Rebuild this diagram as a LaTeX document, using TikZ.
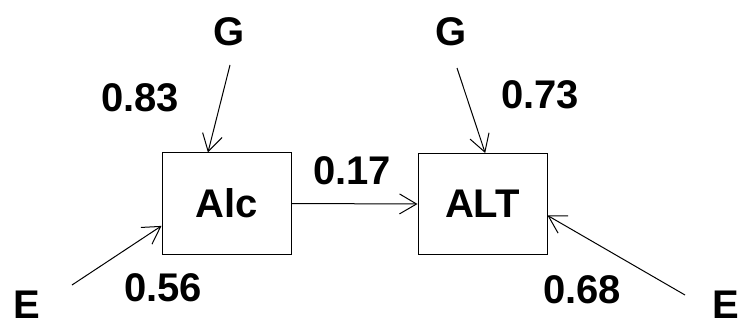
\documentclass[tikz,border=0pt]{standalone}
\usepackage{fontspec}
\setmainfont{Liberation Sans}
\usetikzlibrary{arrows.meta}
\begin{document}
\begin{tikzpicture}[x=1pt,y=1pt,
  box/.style={draw,line width=1pt,minimum width=129pt,minimum height=101pt,inner sep=0pt,font=\fontsize{40}{40}\selectfont\bfseries},
  lbl/.style={inner sep=0pt,font=\fontsize{40}{40}\selectfont\bfseries},
  arr/.style={line width=1pt,-{Straight Barb[length=17pt,width=20pt,line width=1pt]}}]
\useasboundingbox (0,0) rectangle (741,327);
\node[box] (alc) at (226.5,123.5) {Alc};
\node[box] (alt) at (482.5,123) {ALT};
\node[lbl] (g1) at (229,295) {G};
\node[lbl] (g2) at (451,295) {G};
\node[lbl] (e1) at (27,22) {E};
\node[lbl] (e2) at (726,22) {E};
\node[lbl] (l83) at (140,229) {0.83};
\node[lbl] (l73) at (540,232) {0.73};
\node[lbl] (l17) at (352,156) {0.17};
\node[lbl] (l56) at (163,39) {0.56};
\node[lbl] (l68) at (582,37) {0.68};
\coordinate (g1t) at (230,262);
\coordinate (g2t) at (457,259);
\coordinate (e1t) at (72,42);
\coordinate (e2t) at (685,32);
\draw[arr] (g1t) -- (alc.110);
\draw[arr] (g2t) -- (alt.87);
\draw[arr] (e1t) -- (alc.199);
\draw[arr] (e2t) -- (alt.350);
\draw[arr] (alc.east) -- (alt.west);
\end{tikzpicture}
\end{document}
